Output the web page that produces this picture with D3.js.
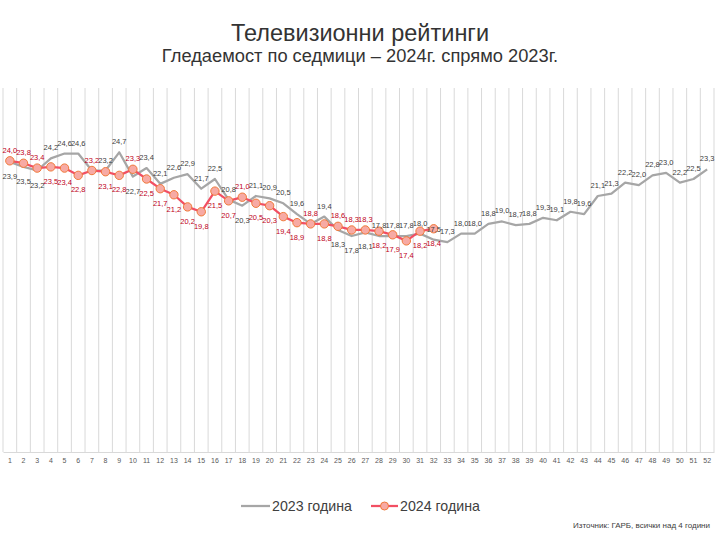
<!DOCTYPE html>
<html lang="bg">
<head>
    <meta charset="UTF-8">
    <title>Телевизионни рейтинги</title>
    <script src="https://d3js.org/d3.v7.min.js"></script>
    <style>
        body { margin: 0; background: #fff; }
        text { font-family: "Liberation Sans", Arial, sans-serif; }
    </style>
</head>
<body>
    <svg width="720" height="540"></svg>
    <script>
        // седмици 1..52
        const weeks = d3.range(1, 53);

        // 2023 година - цялата година
        const values2023 = [
            23.9, 23.5, 23.2, 24.2, 24.6, 24.6, 23.2, 23.2, 24.7, 22.7,
            23.4, 22.1, 22.6, 22.9, 21.7, 22.5, 20.8, 20.3, 21.1, 20.9,
            20.5, 19.6, 18.8, 19.4, 18.3, 17.8, 18.1, 17.8, 17.8, 17.8,
            18.0, 17.5, 17.3, 18.0, 18.0, 18.8, 19.0, 18.7, 18.8, 19.3,
            19.1, 19.8, 19.6, 21.1, 21.3, 22.2, 22.0, 22.8, 23.0, 22.2,
            22.5, 23.3
        ];

        // 2024 година - до 32-ра седмица
        const values2024 = [
            24.0, 23.8, 23.4, 23.5, 23.4, 22.8, 23.2, 23.1, 22.8, 23.3,
            22.5, 21.7, 21.2, 20.2, 19.8, 21.5, 20.7, 21.0, 20.5, 20.3,
            19.4, 18.9, 18.8, 18.8, 18.6, 18.3, 18.3, 18.2, 17.9, 17.4,
            18.2, 18.4
        ];

        // от тази седмица нататък етикетите на 2023 са горе
        const flipFrom = 28;

        const svg = d3.select("svg");

        const x = d3.scaleBand()
            .domain(weeks)
            .range([3, 714]);

        const y = d3.scaleLinear()
            .domain([0, 30])
            .range([452, 88]);

        const fmt = v => d3.format(".1f")(v).replace(".", ",");
        const cx = w => x(w) + x.bandwidth() / 2;

        // 2024 етикет горе ли е
        const redAbove = i => {
            if (weeks[i] >= flipFrom) return false;
            return values2024[i] >= values2023[i];
        };

        // заглавие
        svg.append("text")
            .attr("x", 360).attr("y", 41)
            .attr("text-anchor", "middle")
            .attr("font-size", 23.5)
            .attr("fill", "#333")
            .text("Телевизионни рейтинги");
        svg.append("text")
            .attr("x", 360).attr("y", 62)
            .attr("text-anchor", "middle")
            .attr("font-size", 18.3)
            .attr("fill", "#333")
            .text("Гледаемост по седмици – 2024г. спрямо 2023г.");

        // вертикални линии между седмиците
        const bounds = weeks.map(w => x(w)).concat([x.range()[1]]);
        svg.append("g")
            .selectAll("line")
            .data(bounds)
            .enter().append("line")
            .attr("x1", d => d).attr("x2", d => d)
            .attr("y1", y(30)).attr("y2", y(0))
            .attr("stroke", "#d9d9d9")
            .attr("stroke-width", 1);

        const xAxis = svg.append("g")
            .attr("transform", `translate(0,${y(0)})`)
            .call(d3.axisBottom(x).tickSize(0).tickPadding(6));
        xAxis.select(".domain").attr("stroke", "#d9d9d9");
        xAxis.selectAll("text")
            .attr("font-size", 7)
            .attr("fill", "#595959")
            .style("font-family", "Liberation Sans, Arial, sans-serif");

        const line = d3.line()
            .x((d, i) => cx(weeks[i]))
            .y(d => y(d));

        svg.append("path")
            .datum(values2023)
            .attr("fill", "none")
            .attr("stroke", "#a6a6a6")
            .attr("stroke-width", 2.25)
            .attr("stroke-linejoin", "round")
            .attr("d", line);

        svg.append("path")
            .datum(values2024)
            .attr("fill", "none")
            .attr("stroke", "#f24f63")
            .attr("stroke-width", 2.25)
            .attr("stroke-linejoin", "round")
            .attr("d", line);

        svg.append("g")
            .selectAll("circle")
            .data(values2024)
            .enter().append("circle")
            .attr("cx", (d, i) => cx(weeks[i]))
            .attr("cy", d => y(d))
            .attr("r", 4.2)
            .attr("fill", "#f7aaa4")
            .attr("stroke", "#f07a3a")
            .attr("stroke-width", 1);

        // етикети 2023 (при равни стойности се вижда само 2024)
        const labels23 = values2023
            .map((v, i) => ({ v, i }))
            .filter(d => values2024[d.i] !== d.v);

        svg.append("g")
            .selectAll("text")
            .data(labels23)
            .enter().append("text")
            .attr("x", d => cx(weeks[d.i]))
            .attr("y", d => {
                const below = d.i < values2024.length && redAbove(d.i);
                return y(d.v) + (below ? 17 : -8);
            })
            .attr("text-anchor", "middle")
            .attr("font-size", 7.5)
            .attr("fill", "#404040")
            .text(d => fmt(d.v));

        svg.append("g")
            .selectAll("text")
            .data(values2024)
            .enter().append("text")
            .attr("x", (d, i) => cx(weeks[i]))
            .attr("y", (d, i) => y(d) + (redAbove(i) ? -8 : 17))
            .attr("text-anchor", "middle")
            .attr("font-size", 7.5)
            .attr("fill", "#c00020")
            .text(d => fmt(d));

        // легенда
        const legend = svg.append("g").attr("transform", "translate(0,506)");
        legend.append("line")
            .attr("x1", 241).attr("x2", 270)
            .attr("stroke", "#a6a6a6").attr("stroke-width", 2.25);
        legend.append("text")
            .attr("x", 272).attr("y", 5)
            .attr("font-size", 14.2)
            .attr("fill", "#404040")
            .text("2023 година");
        legend.append("line")
            .attr("x1", 371).attr("x2", 398)
            .attr("stroke", "#f24f63").attr("stroke-width", 2.25);
        legend.append("circle")
            .attr("cx", 384.5).attr("cy", 0).attr("r", 4)
            .attr("fill", "#f7aaa4")
            .attr("stroke", "#f07a3a");
        legend.append("text")
            .attr("x", 400).attr("y", 5)
            .attr("font-size", 14.2)
            .attr("fill", "#404040")
            .text("2024 година");

        svg.append("text")
            .attr("x", 710).attr("y", 528)
            .attr("text-anchor", "end")
            .attr("font-size", 8)
            .attr("fill", "#404040")
            .text("Източник: ГАРБ, всички над 4 години");
    </script>
</body>
</html>
